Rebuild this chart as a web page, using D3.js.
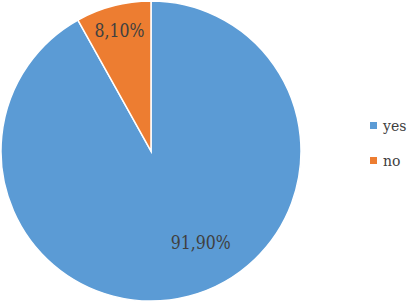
<!DOCTYPE html>
<html><head><meta charset="utf-8">
<script src="https://cdn.jsdelivr.net/npm/d3@7"></script>
<style>body{margin:0;background:#fff}svg{display:block}
text{font-family:"DejaVu Serif","Liberation Serif",serif;}</style>
</head><body>
<svg id="c" width="410" height="302"></svg>
<script>
const categories = ["yes", "no"];
const values = [91.9, 8.1];
const labels = ["91,90%", "8,10%"];
const colors = ["#5B9BD5", "#ED7D31"];

const svg = d3.select("#c");
const cx = 151, cy = 151, R = 150;
const g = svg.append("g").attr("transform", `translate(${cx},${cy})`);
const pie = d3.pie().sort(null).value(d => d)(values);
const arc = d3.arc().innerRadius(0).outerRadius(R);
const color = d3.scaleOrdinal().domain(categories).range(colors);

g.selectAll("path").data(pie).join("path")
  .attr("d", arc)
  .attr("fill", (d, i) => color(categories[i]))
  .attr("stroke", "#fff").attr("stroke-width", 1.5);

const labelPos = [{a: 2.64, r: 0.69, w: 60}, {a: -0.255, r: 0.835, w: 50}];
g.selectAll("text.lbl").data(pie).join("text")
  .attr("class", "lbl")
  .attr("transform", (d, i) => {
    const p = d3.pointRadial(labelPos[i].a, labelPos[i].r * R);
    return `translate(${p[0]},${p[1]})`;
  })
  .attr("text-anchor", "middle").attr("dy", "0.36em")
  .attr("font-size", 19).attr("fill", "#404040")
  .attr("textLength", (d, i) => labelPos[i].w).attr("lengthAdjust", "spacingAndGlyphs")
  .text((d, i) => labels[i]);

const lg = svg.append("g").attr("transform", "translate(370,0)");
const ly = d3.scalePoint().domain(categories).range([125, 160]);
categories.forEach(c => {
  lg.append("rect").attr("x", 0).attr("y", ly(c) - 3).attr("width", 7).attr("height", 7).attr("fill", color(c));
  lg.append("text").attr("x", 13).attr("y", ly(c) + 5.5)
    .attr("font-size", 14).attr("fill", "#404040").text(c);
});
</script>
</body></html>
